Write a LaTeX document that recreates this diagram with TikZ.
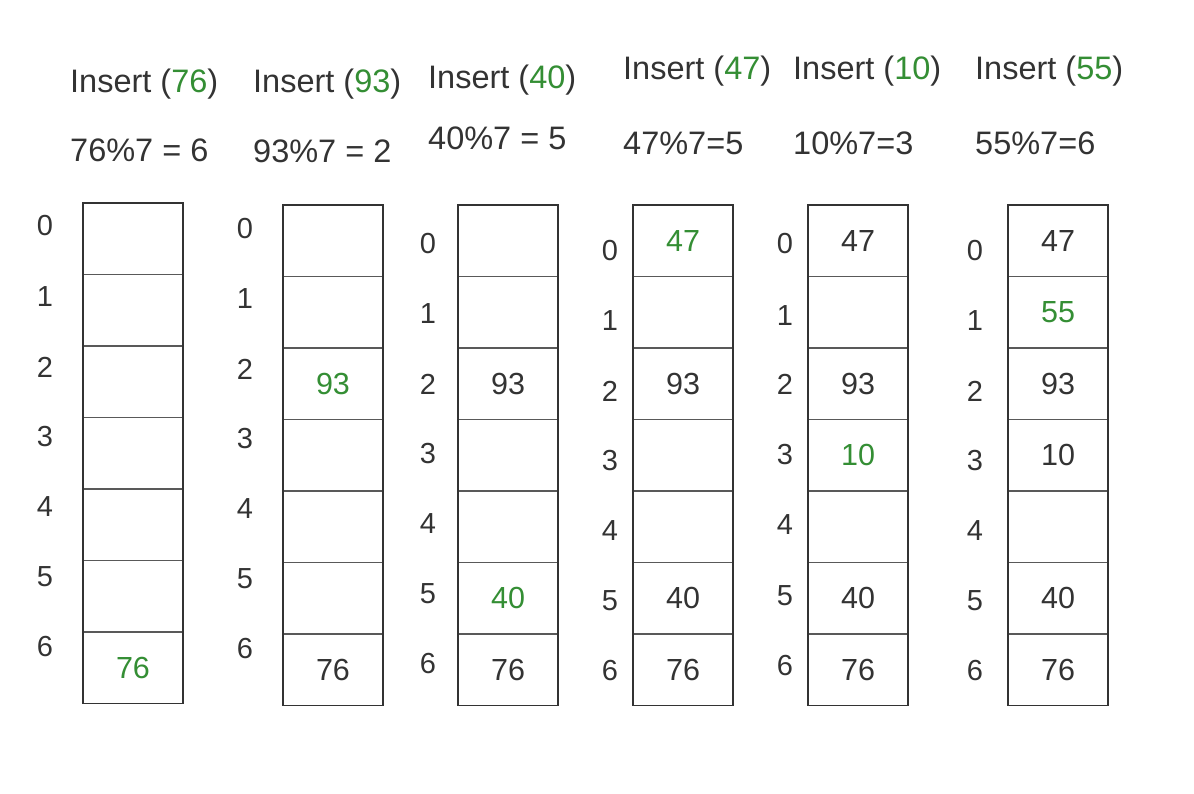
\documentclass[tikz,border=0pt]{standalone}
\usepackage{fontspec}
\setmainfont{Liberation Sans}
\usepackage{tikz}
\usetikzlibrary{positioning}

\definecolor{txt}{RGB}{51,51,51}
\definecolor{newgreen}{RGB}{52,142,52}
\newcommand{\newval}[1]{\textcolor{newgreen}{#1}}

\begin{document}
\begin{tikzpicture}[
x=1pt, y=-1pt,
font=\fontsize{32.5}{38}\selectfont,
text=txt,
cell/.style={rectangle,
  draw=black!65,
  line width=1.2pt,
  minimum width=100pt,
  minimum height=71.5pt,
  inner sep=0pt,
  outer sep=0pt,
  font=\fontsize{30.5}{36}\selectfont
},
frame/.style={draw=black!80, line width=1.6pt},
idx/.style={inner sep=0pt, font=\fontsize{29}{34}\selectfont},
head/.style={anchor=base west, inner sep=0pt}
]
\useasboundingbox (0,0) rectangle (1194,794);

% headers
\node[head] (ha) at (70,93) {Insert (\newval{76})};
\node[head] (fa) at (70,162) {76\%7 = 6};
\node[head] (hb) at (253,93) {Insert (\newval{93})};
\node[head] (fb) at (253,163) {93\%7 = 2};
\node[head] (hc) at (428,89) {Insert (\newval{40})};
\node[head] (fc) at (428,150) {40\%7 = 5};
\node[head] (hd) at (623,80) {Insert (\newval{47})};
\node[head] (fd) at (623,155) {47\%7=5};
\node[head] (he) at (793,80) {Insert (\newval{10})};
\node[head] (fe) at (793,155) {10\%7=3};
\node[head] (hf) at (975,80) {Insert (\newval{55})};
\node[head] (ff) at (975,155) {55\%7=6};

% table 1
\node[cell, anchor=north] (a0) at (133,203) {};
\node[cell, below=0pt of a0] (a1) {};
\node[cell, below=0pt of a1] (a2) {};
\node[cell, below=0pt of a2] (a3) {};
\node[cell, below=0pt of a3] (a4) {};
\node[cell, below=0pt of a4] (a5) {};
\node[cell, below=0pt of a5] (a6) {\newval{76}};
\draw[frame] (a0.north west) rectangle (a6.south east);
\foreach \y [count=\i from 0] in {226,297,367,437,507,577,647}
  \node[idx] (la\i) at (45,\y) {\i};

% table 2
\node[cell, anchor=north] (b0) at (333,205) {};
\node[cell, below=0pt of b0] (b1) {};
\node[cell, below=0pt of b1] (b2) {\newval{93}};
\node[cell, below=0pt of b2] (b3) {};
\node[cell, below=0pt of b3] (b4) {};
\node[cell, below=0pt of b4] (b5) {};
\node[cell, below=0pt of b5] (b6) {76};
\draw[frame] (b0.north west) rectangle (b6.south east);
\foreach \y [count=\i from 0] in {229,299,369,439,509,579,649}
  \node[idx] (lb\i) at (245,\y) {\i};

% table 3
\node[cell, anchor=north] (c0) at (508,205) {};
\node[cell, below=0pt of c0] (c1) {};
\node[cell, below=0pt of c1] (c2) {93};
\node[cell, below=0pt of c2] (c3) {};
\node[cell, below=0pt of c3] (c4) {};
\node[cell, below=0pt of c4] (c5) {\newval{40}};
\node[cell, below=0pt of c5] (c6) {76};
\draw[frame] (c0.north west) rectangle (c6.south east);
\foreach \y [count=\i from 0] in {244,314,384,454,524,594,664}
  \node[idx] (lc\i) at (428,\y) {\i};

% table 4
\node[cell, anchor=north] (d0) at (683,205) {\newval{47}};
\node[cell, below=0pt of d0] (d1) {};
\node[cell, below=0pt of d1] (d2) {93};
\node[cell, below=0pt of d2] (d3) {};
\node[cell, below=0pt of d3] (d4) {};
\node[cell, below=0pt of d4] (d5) {40};
\node[cell, below=0pt of d5] (d6) {76};
\draw[frame] (d0.north west) rectangle (d6.south east);
\foreach \y [count=\i from 0] in {251,321,391,461,531,601,671}
  \node[idx] (ld\i) at (610,\y) {\i};

% table 5
\node[cell, anchor=north] (e0) at (858,205) {47};
\node[cell, below=0pt of e0] (e1) {};
\node[cell, below=0pt of e1] (e2) {93};
\node[cell, below=0pt of e2] (e3) {\newval{10}};
\node[cell, below=0pt of e3] (e4) {};
\node[cell, below=0pt of e4] (e5) {40};
\node[cell, below=0pt of e5] (e6) {76};
\draw[frame] (e0.north west) rectangle (e6.south east);
\foreach \y [count=\i from 0] in {244,316,384,455,525,596,666}
  \node[idx] (le\i) at (785,\y) {\i};

% table 6
\node[cell, anchor=north] (f0) at (1058,205) {47};
\node[cell, below=0pt of f0] (f1) {\newval{55}};
\node[cell, below=0pt of f1] (f2) {93};
\node[cell, below=0pt of f2] (f3) {10};
\node[cell, below=0pt of f3] (f4) {};
\node[cell, below=0pt of f4] (f5) {40};
\node[cell, below=0pt of f5] (f6) {76};
\draw[frame] (f0.north west) rectangle (f6.south east);
\foreach \y [count=\i from 0] in {251,321,391,461,531,601,671}
  \node[idx] (lf\i) at (975,\y) {\i};
\end{tikzpicture}
\end{document}
